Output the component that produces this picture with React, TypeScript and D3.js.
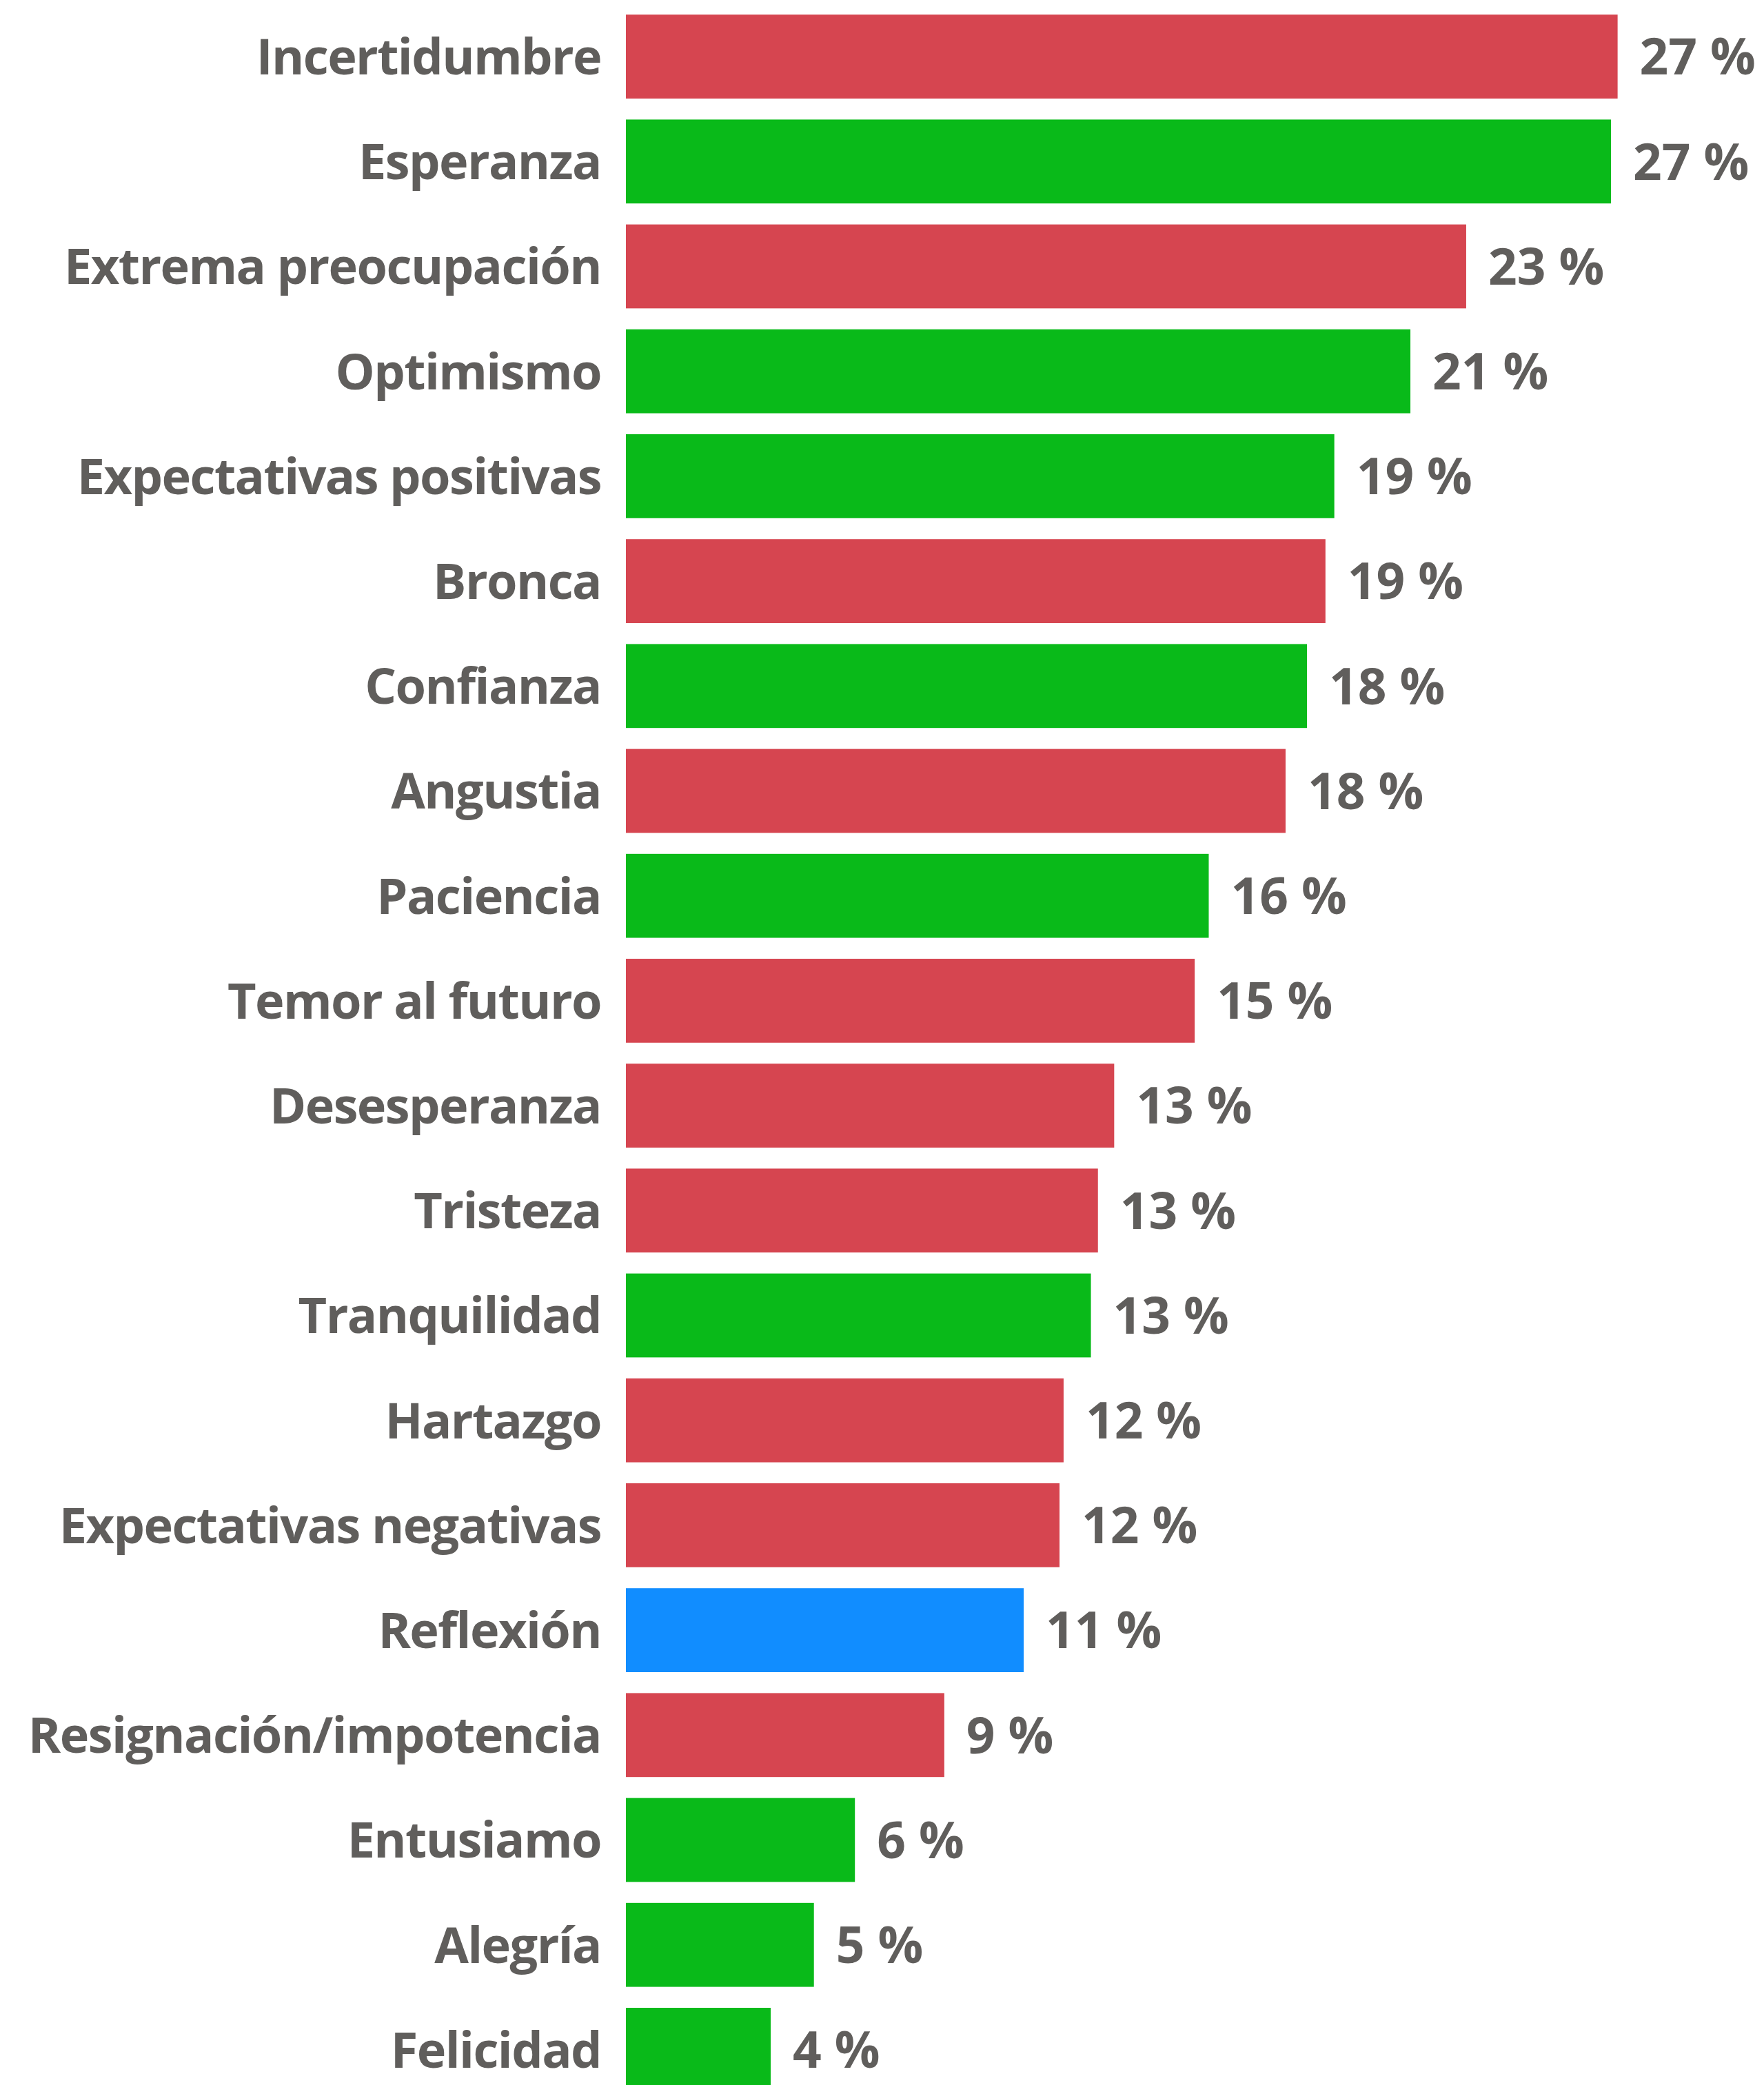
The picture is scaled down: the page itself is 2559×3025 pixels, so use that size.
import React from "react";
import * as d3 from "d3";

const categories = [
  "Incertidumbre",
  "Esperanza",
  "Extrema preocupación",
  "Optimismo",
  "Expectativas positivas",
  "Bronca",
  "Confianza",
  "Angustia",
  "Paciencia",
  "Temor al futuro",
  "Desesperanza",
  "Tristeza",
  "Tranquilidad",
  "Hartazgo",
  "Expectativas negativas",
  "Reflexión",
  "Resignación/impotencia",
  "Entusiamo",
  "Alegría",
  "Felicidad",
];

const values = [
  26.85, 26.67, 22.75, 21.24, 19.18, 18.94, 18.44, 17.86, 15.78, 15.4,
  13.22, 12.78, 12.59, 11.85, 11.74, 10.77, 8.62, 6.2, 5.09, 3.92,
];

// sentiment group of each category
const groups = [
  "neg", "pos", "neg", "pos", "pos", "neg", "pos", "neg", "pos", "neg",
  "neg", "neg", "pos", "neg", "neg", "neu", "neg", "pos", "pos", "pos",
];

const groupColors: Record<string, string> = {
  neg: "#D64550",
  pos: "#09BA19",
  neu: "#118DFF",
};

const W = 2559;
const H = 3025;
const X0 = 908;
const FONT = "'Open Sans', 'Noto Sans', sans-serif";
const FS = 72;
const VFS = 73;
const TEXT = "#605E5C";

export default function App() {
  const x = d3.scaleLinear().domain([0, 30]).range([X0, X0 + 30 * 53.58]);
  const y = d3
    .scaleBand<string>()
    .domain(categories)
    .range([6, 6 + 20 * 152.2])
    .paddingInner(0.2)
    .paddingOuter(0.1);

  return (
    <>
      <style>{`body{margin:0;overflow:hidden}`}</style>
      <svg width={W} height={H} style={{ display: "block" }}>
        <rect width={W} height={H} fill="#ffffff" />
        {categories.map((c, i) => {
          const yy = y(c)!;
          const bw = y.bandwidth();
          const cy = yy + bw / 2;
          const base = cy + FS * 0.36;
          return (
            <g key={c}>
              <rect
                x={x(0)}
                y={yy}
                width={x(values[i]) - x(0)}
                height={bw}
                fill={groupColors[groups[i]]}
              />
              <text
                x={X0 - 36}
                y={base}
                textAnchor="end"
                fontFamily={FONT}
                fontWeight={700}
                fontSize={FS}
                letterSpacing={-1.6}
                fill={TEXT}
              >
                {c}
              </text>
              <text
                x={x(values[i]) + 32}
                y={cy + VFS * 0.36}
                textAnchor="start"
                fontFamily={FONT}
                fontWeight={700}
                fontSize={VFS}
                fill={TEXT}
              >
                {`${Math.round(values[i])} %`}
              </text>
            </g>
          );
        })}
      </svg>
    </>
  );
}
